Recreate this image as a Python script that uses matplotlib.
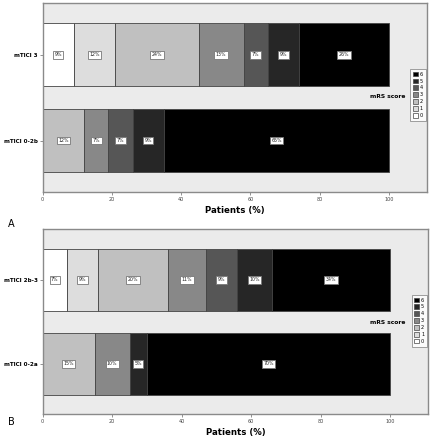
import matplotlib
matplotlib.use("Agg")
import matplotlib.pyplot as plt
from matplotlib.patches import Patch

scores = ["0", "1", "2", "3", "4", "5", "6"]
colors = ["#ffffff", "#dddddd", "#c0c0c0", "#888888", "#565656", "#262626", "#000000"]

groups_a = ["mTICI 3", "mTICI 0-2b"]
vals_a = {
    "mTICI 3":    [9, 12, 24, 13, 7, 9, 26],
    "mTICI 0-2b": [0, 0, 12, 7, 7, 9, 65],
}
groups_b = ["mTICI 2b-3", "mTICI 0-2a"]
vals_b = {
    "mTICI 2b-3": [7, 9, 20, 11, 9, 10, 34],
    "mTICI 0-2a": [0, 0, 15, 10, 0, 5, 70],
}
xticks = [0, 20, 40, 60, 80, 100]

fig = plt.figure(figsize=(4.32, 4.40), dpi=100)
fig.patch.set_facecolor("white")

def panel(rect, groups, vals, legend_y):
    ax = fig.add_axes(rect)
    ax.set_facecolor("#ebebeb")
    for i, g in enumerate(groups):
        left = 0
        for s, v, c in zip(scores, vals[g], colors):
            if v > 0:
                ax.barh(i, v, left=left, height=0.74, color=c,
                        edgecolor="#444444", linewidth=0.6)
                ax.text(left + v / 2, i, f"{v}%", ha="center", va="center",
                        fontsize=3.4, color="#222222",
                        bbox=dict(boxstyle="square,pad=0.3", fc="white",
                                  ec="#777777", lw=0.6))
            left += v
    ax.set_xlim(0, 110.9)
    ax.set_ylim(1.6, -0.6)
    ax.set_yticks(range(len(groups)))
    ax.set_yticklabels(groups, fontsize=4.1, fontweight="bold")
    ax.set_xticks(xticks)
    ax.set_xticklabels([str(t) for t in xticks], fontsize=3.5, color="#444444")
    ax.tick_params(axis="x", length=2, width=0.5, pad=1.5, color="#666666")
    ax.tick_params(axis="y", length=2, width=0.5, pad=1.5, color="#666666")
    for sp in ax.spines.values():
        sp.set_color("#8a8a8a")
        sp.set_linewidth(1.0)
    ax.set_xlabel("Patients (%)", fontsize=6.2, fontweight="bold", labelpad=3)
    handles = [Patch(facecolor=colors[k], edgecolor="#444444", linewidth=0.5,
                     label=scores[k]) for k in range(6, -1, -1)]
    leg = ax.legend(handles=handles, loc="center right",
                    bbox_to_anchor=(1.0, legend_y), fontsize=3.6,
                    handlelength=1.0, handleheight=1.0, handletextpad=0.35,
                    labelspacing=0.38, borderpad=0.55, borderaxespad=0.2,
                    frameon=True, fancybox=False)
    leg.get_frame().set_edgecolor("#777777")
    leg.get_frame().set_linewidth(0.6)
    leg.get_frame().set_facecolor("white")
    return ax

axA = panel([0.0988, 0.5636, 0.889, 0.429], groups_a, vals_a, 0.515)
axB = panel([0.0988, 0.059, 0.892, 0.42], groups_b, vals_b, 0.505)

fig.text(405 / 432, 1 - 97 / 440, "mRS score", ha="right", va="center",
         fontsize=4.3, fontweight="bold")
fig.text(405 / 432, 1 - 322 / 440, "mRS score", ha="right", va="center",
         fontsize=4.3, fontweight="bold")
fig.text(8 / 432, 1 - 224 / 440, "A", ha="left", va="center", fontsize=7)
fig.text(8 / 432, 1 - 422 / 440, "B", ha="left", va="center", fontsize=7)

fig.savefig("out.png", dpi=100, facecolor="white")
